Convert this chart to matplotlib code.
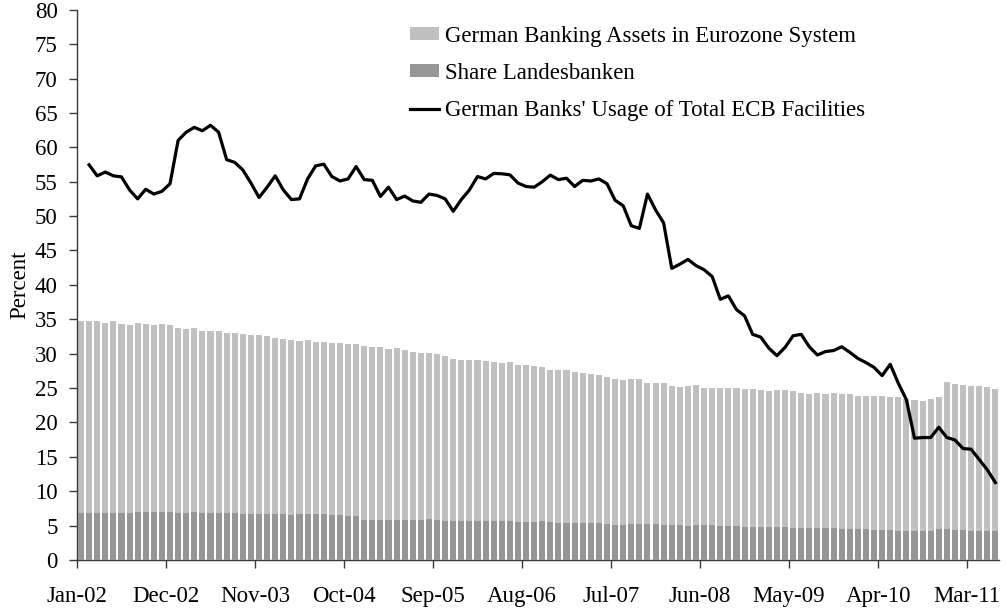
import matplotlib
matplotlib.use("Agg")
import matplotlib.pyplot as plt
import numpy as np

plt.rcParams['font.family'] = ['Liberation Serif', 'DejaVu Serif']

tick_labels = ["Jan-02", "Dec-02", "Nov-03", "Oct-04", "Sep-05", "Aug-06",
               "Jul-07", "Jun-08", "May-09", "Apr-10", "Mar-11"]

# German Banking Assets in Eurozone System (monthly, Jan-02 .. Jun-11)
assets = [34.7, 34.7, 34.7, 34.5, 34.7, 34.3, 34.2, 34.5, 34.3, 34.2, 34.3, 34.2,
          33.75, 33.6, 33.75, 33.36, 33.36, 33.36, 33.0, 33.0, 32.87, 32.7, 32.7,
          32.58, 32.3, 32.15, 32.0, 31.85,
          32.0, 31.7, 31.7, 31.56, 31.56, 31.4, 31.4, 31.1, 30.98, 30.98, 30.7, 30.8,
          30.55, 30.25, 30.1, 30.1, 29.96, 29.67, 29.24, 29.1, 29.1, 29.1, 28.95,
          28.8, 28.65, 28.8, 28.36, 28.36,
          28.27, 28.07, 27.64, 27.64, 27.64, 27.35, 27.2, 27.05, 26.9, 26.6, 26.3,
          26.2, 26.3, 26.3, 25.75, 25.75, 25.75, 25.3, 25.16, 25.3, 25.45, 25.0,
          25.0, 25.0, 25.0, 25.0, 24.87, 24.8, 24.7,
          24.58, 24.7, 24.7, 24.58, 24.3, 24.15, 24.3, 24.15, 24.3, 24.15, 24.15,
          23.85, 23.85, 23.85, 23.85, 23.7, 23.7, 23.4, 23.27, 23.1, 23.4, 23.7,
          25.9, 25.6, 25.45, 25.3, 25.3, 25.16, 24.87]

# Share Landesbanken
landesbanken = [6.9, 6.9, 6.9, 6.9, 6.9, 6.9, 6.9, 7.03, 7.03, 7.03, 7.03, 7.03,
                6.9, 6.9, 7.03, 6.9, 6.9, 6.9, 6.9, 6.9, 6.74, 6.74, 6.74, 6.74,
                6.64, 6.74, 6.55, 6.64, 6.7, 6.64, 6.7, 6.55, 6.55, 6.4, 6.4,
                5.8, 5.8, 5.8, 5.8, 5.8, 5.8, 5.8, 5.8, 5.96, 5.8,
                5.67, 5.67, 5.67, 5.67, 5.67, 5.67, 5.67, 5.6, 5.67, 5.53, 5.53,
                5.56, 5.67, 5.53, 5.38, 5.38, 5.38, 5.38, 5.38, 5.38, 5.24, 5.1, 5.1,
                5.24, 5.24, 5.24, 5.24, 5.1, 5.1, 5.1, 4.95, 5.1, 5.1, 5.1,
                4.95, 4.95, 4.95, 4.8, 4.8, 4.8, 4.8, 4.8, 4.8,
                4.65, 4.65, 4.65, 4.65, 4.65, 4.65, 4.5, 4.5, 4.5, 4.5,
                4.36, 4.36, 4.36, 4.2, 4.2, 4.2, 4.2, 4.2, 4.5, 4.5, 4.36, 4.36,
                4.2, 4.2, 4.2, 4.2]

# German Banks' Usage of Total ECB Facilities (starts Feb-02)
ecb_usage = [57.45, 55.85, 56.4, 55.85, 55.7, 53.8, 52.5, 53.9, 53.2, 53.6, 54.7,
             61.0, 62.2, 62.9, 62.4, 63.2, 62.2, 58.2, 57.8, 56.7, 54.8, 52.7, 54.2,
             55.85, 53.8, 52.4, 52.5,
             55.4, 57.3, 57.55, 55.75, 55.1, 55.4, 57.2, 55.3, 55.2, 52.85, 54.2,
             52.4, 52.9, 52.2, 52.0, 53.2, 53.0, 52.5, 50.7, 52.4, 53.8, 55.75, 55.4,
             56.2, 56.15, 56.0, 54.8, 54.3,
             54.2, 55.0, 55.95, 55.3, 55.5, 54.3, 55.2, 55.1, 55.4, 54.7, 52.3, 51.5,
             48.6, 48.2, 53.2, 50.9, 49.0, 42.4, 43.0, 43.7, 42.8, 42.2, 41.2, 37.9,
             38.4, 36.4, 35.5, 32.8, 32.4,
             30.8, 29.7, 30.9, 32.6, 32.8, 31.0, 29.8, 30.3, 30.45, 31.0, 30.2, 29.3,
             28.7, 28.0, 26.8, 28.45, 25.7, 23.3, 17.7, 17.8, 17.8, 19.3, 17.8, 17.45,
             16.2, 16.1, 14.6, 13.1, 11.25]

n = len(assets)
x = np.arange(n)
x_line = np.arange(n - len(ecb_usage), n)

FS = 16.5

fig = plt.figure(figsize=(10.06, 6.08), dpi=100)
ax = fig.add_axes([0.0765, 0.079, 0.917, 0.905])

b1 = ax.bar(x, assets, width=0.75, color='#C0C0C0', label='German Banking Assets in Eurozone System', zorder=2)
b2 = ax.bar(x, landesbanken, width=0.75, color='#969696', label='Share Landesbanken', zorder=3)
l1, = ax.plot(x_line, ecb_usage, color='black', lw=2.3, label="German Banks' Usage of Total ECB Facilities", zorder=4)

ax.set_xlim(-0.5, n - 0.5)
ax.set_ylim(0, 80)
ax.set_yticks(np.arange(0, 81, 5))
ax.set_xticks(np.arange(len(tick_labels)) * 11 - 0.5)
ax.set_xticklabels(tick_labels)

for s in ['top', 'right']:
    ax.spines[s].set_visible(False)
for s in ['left', 'bottom']:
    ax.spines[s].set_color('#3a3a3a')
    ax.spines[s].set_linewidth(1.0)
ax.tick_params(axis='both', colors='#3a3a3a', labelcolor='black', labelsize=FS, length=6, width=1.0)
ax.tick_params(axis='x', pad=13)
ax.tick_params(axis='y', pad=8)
ax.set_ylabel('Percent', fontsize=FS, labelpad=3)

leg = ax.legend(handles=[b1, b2, l1], loc='upper left', bbox_to_anchor=(0.3385, 1.008),
                frameon=False, fontsize=FS,
                handlelength=1.27, handleheight=0.48, handletextpad=0.26, labelspacing=0.7)

fig.savefig('out.png', dpi=100)
